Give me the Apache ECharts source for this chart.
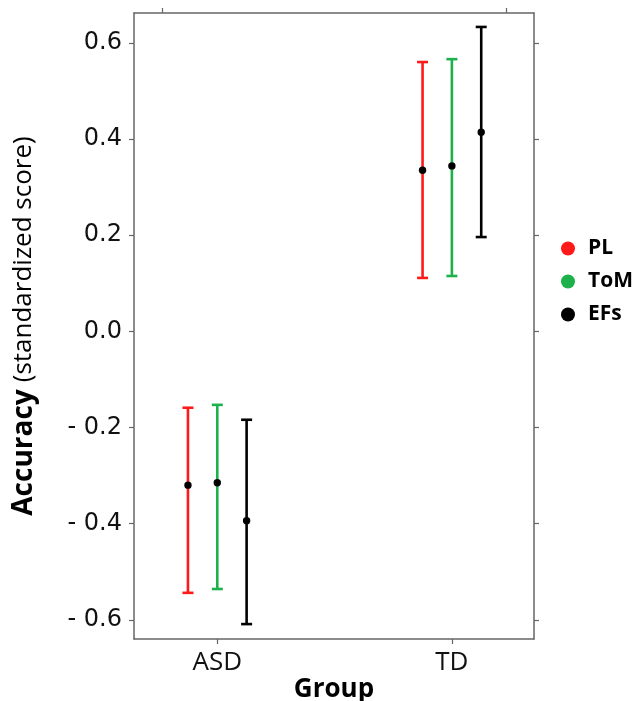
<!DOCTYPE html>
<html>
<head>
<meta charset="utf-8">
<script src="https://cdn.jsdelivr.net/npm/echarts@6/dist/echarts.min.js"></script>
<style>
  html, body { margin: 0; padding: 0; background: #fff; }
  #chart { width: 644px; height: 701px; }
</style>
</head>
<body>
<div id="chart"></div>
<script>
// groups sit at x = 1 (ASD) and x = 2 (TD), measures are dodged around them
const groups = ['ASD', 'TD']
const measures = ['PL', 'ToM', 'EFs']
const colors = ['#ff1a1a', '#1db14b', '#000000']
const offsets = [-0.125, 0, 0.125]

// mean / lower / upper per measure, one value per group
const means = {
  PL: [-0.320, 0.335],
  ToM: [-0.315, 0.344],
  EFs: [-0.394, 0.414]
}
const lower = {
  PL: [-0.544, 0.111],
  ToM: [-0.536, 0.115],
  EFs: [-0.609, 0.196]
}
const upper = {
  PL: [-0.159, 0.560],
  ToM: [-0.153, 0.566],
  EFs: [-0.184, 0.633]
}
const yTicks = [-0.6, -0.4, -0.2, 0.0, 0.2, 0.4, 0.6]

const chart = echarts.init(document.getElementById('chart'))

const fmtY = v => (v < 0 ? '- ' + Math.abs(v).toFixed(1) : v.toFixed(1))

const errorSeries = measures.map((m, mi) => ({
  name: m,
  type: 'custom',
  itemStyle: { color: colors[mi] },
  data: groups.map((g, gi) => [gi + 1 + offsets[mi], lower[m][gi], upper[m][gi], means[m][gi]]),
  encode: { x: 0, y: [1, 2, 3] },
  renderItem: (params, api) => {
    const x = api.value(0)
    const lo = api.coord([x, api.value(1)])
    const hi = api.coord([x, api.value(2)])
    const mid = api.coord([x, api.value(3)])
    const cap = 5.5
    const stroke = { stroke: colors[mi], lineWidth: 2.6 }
    return {
      type: 'group',
      children: [
        { type: 'line', shape: { x1: lo[0], y1: lo[1], x2: hi[0], y2: hi[1] }, style: stroke },
        { type: 'line', shape: { x1: hi[0] - cap, y1: hi[1], x2: hi[0] + cap, y2: hi[1] }, style: stroke },
        { type: 'line', shape: { x1: lo[0] - cap, y1: lo[1], x2: lo[0] + cap, y2: lo[1] }, style: stroke },
        { type: 'circle', shape: { cx: mid[0], cy: mid[1], r: 3.7 }, style: { fill: '#000' } }
      ]
    }
  }
}))

const option = {
  animation: false,
  textStyle: { fontFamily: 'Open Sans' },
  grid: { left: 134, right: 110, top: 13, bottom: 62, show: false, outerBoundsMode: 'none', containLabel: false },
  legend: {
    orient: 'vertical',
    left: 556,
    top: 233,
    icon: 'circle',
    itemWidth: 14,
    itemHeight: 14,
    itemGap: 12,
    data: measures,
    textStyle: {
      fontSize: 21,
      fontWeight: 'bold',
      color: '#000',
      fontFamily: 'Open Sans',
      padding: [0, 0, 0, 8]
    }
  },
  xAxis: [
    {
      type: 'value',
      min: 0.645,
      max: 2.35,
      position: 'bottom',
      name: 'Group',
      nameLocation: 'middle',
      nameGap: 38,
      nameMoveOverlap: false,
      nameTextStyle: { fontSize: 26, fontWeight: 'bold', color: '#000' },
      axisLine: { show: true, onZero: false, lineStyle: { color: '#666', width: 1.5 } },
      axisTick: { show: true, length: 5, customValues: [1, 2], lineStyle: { color: '#666', width: 1.2 } },
      axisLabel: {
        customValues: [1, 2],
        formatter: v => groups[Math.round(v) - 1],
        fontSize: 26,
        color: '#111',
        margin: 11
      },
      splitLine: { show: false }
    },
    {
      type: 'value',
      min: 0.645,
      max: 2.35,
      position: 'top',
      axisLine: { show: true, onZero: false, lineStyle: { color: '#666', width: 1.5 } },
      axisTick: { show: true, length: 5, customValues: [0.766, 2.23], lineStyle: { color: '#666', width: 1.2 } },
      axisLabel: { show: false },
      splitLine: { show: false }
    }
  ],
  yAxis: [
    {
      type: 'value',
      min: -0.64,
      max: 0.662,
      position: 'left',
      name: '{b|Accuracy}{s| }{n|(standardized score)}',
      nameLocation: 'middle',
      nameGap: 96,
      nameRotate: 90,
      nameMoveOverlap: false,
      nameTextStyle: {
        rich: {
          b: { fontSize: 28, fontWeight: 'bold', color: '#000', fontFamily: 'Open Sans' },
          s: { fontSize: 14, width: 7 },
          n: { fontSize: 26, color: '#000', fontFamily: 'Open Sans' }
        }
      },
      axisLine: { show: true, onZero: false, lineStyle: { color: '#666', width: 1.5 } },
      axisTick: { show: true, length: 5, customValues: yTicks, lineStyle: { color: '#666', width: 1.2 } },
      axisLabel: {
        customValues: yTicks,
        formatter: fmtY,
        fontSize: 24,
        color: '#111',
        fontFamily: 'DejaVu Sans',
        margin: 12
      },
      splitLine: { show: false }
    },
    {
      type: 'value',
      min: -0.64,
      max: 0.662,
      position: 'right',
      axisLine: { show: true, onZero: false, lineStyle: { color: '#666', width: 1.5 } },
      axisTick: { show: true, length: 5, customValues: yTicks, lineStyle: { color: '#666', width: 1.2 } },
      axisLabel: { show: false },
      splitLine: { show: false }
    }
  ],
  series: errorSeries
}

chart.setOption(option)
</script>
</body>
</html>
